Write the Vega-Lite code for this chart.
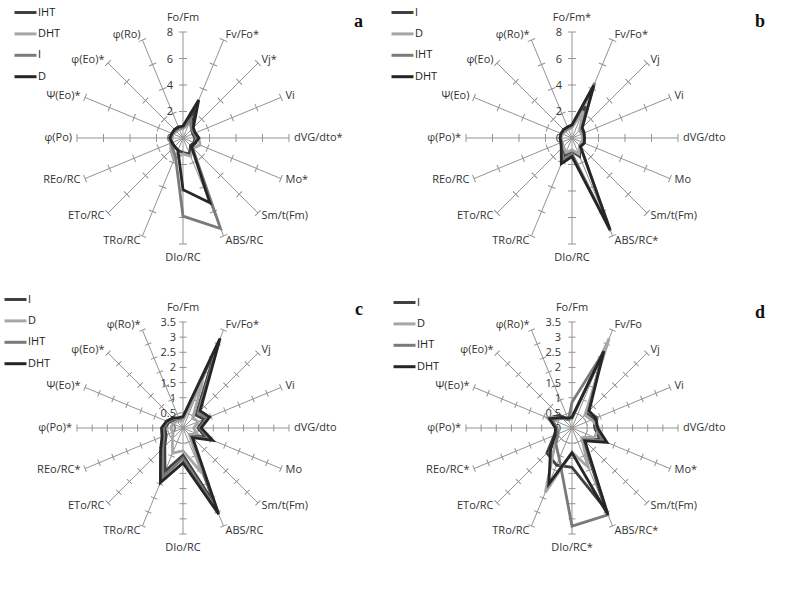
{
"$schema":"https://vega.github.io/schema/vega-lite/v6.json",
"padding":0,
"background":"white",
"columns":2,
"spacing":0,
"bounds":"flush",
"resolve":{"scale":{"color":"independent"},"legend":{"color":"independent"}},
"config":{"view":{"stroke":null},"font":"Open Sans","legend":{"title":null,"symbolType":"stroke","symbolSize":484,"symbolStrokeWidth":3,"labelFont":"Open Sans","labelFontSize":11,"labelColor":"#222","labelOffset":0,"rowPadding":2.4,"padding":0}},
"datasets":{
"spokes":[
{"k":0,"la":"Fo/Fm","lb":"Fo/Fm*","lc":"Fo/Fm","ld":"Fo/Fm","t8":[2,4,6,8],"t35":[0.5,1,1.5,2,2.5,3,3.5]},
{"k":1,"la":"Fv/Fo*","lb":"Fv/Fo*","lc":"Fv/Fo*","ld":"Fv/Fo","t8":[2,4,6,8],"t35":[0.5,1,1.5,2,2.5,3,3.5]},
{"k":2,"la":"Vj*","lb":"Vj","lc":"Vj","ld":"Vj","t8":[2,4,6,8],"t35":[0.5,1,1.5,2,2.5,3,3.5]},
{"k":3,"la":"Vi","lb":"Vi","lc":"Vi","ld":"Vi","t8":[2,4,6,8],"t35":[0.5,1,1.5,2,2.5,3,3.5]},
{"k":4,"la":"dVG/dto*","lb":"dVG/dto","lc":"dVG/dto","ld":"dVG/dto","t8":[2,4,6,8],"t35":[0.5,1,1.5,2,2.5,3,3.5]},
{"k":5,"la":"Mo*","lb":"Mo","lc":"Mo","ld":"Mo*","t8":[2,4,6,8],"t35":[0.5,1,1.5,2,2.5,3,3.5]},
{"k":6,"la":"Sm/t(Fm)","lb":"Sm/t(Fm)","lc":"Sm/t(Fm)","ld":"Sm/t(Fm)","t8":[2,4,6,8],"t35":[0.5,1,1.5,2,2.5,3,3.5]},
{"k":7,"la":"ABS/RC","lb":"ABS/RC*","lc":"ABS/RC","ld":"ABS/RC*","t8":[2,4,6,8],"t35":[0.5,1,1.5,2,2.5,3,3.5]},
{"k":8,"la":"DIo/RC","lb":"DIo/RC","lc":"DIo/RC","ld":"DIo/RC*","t8":[2,4,6,8],"t35":[0.5,1,1.5,2,2.5,3,3.5]},
{"k":9,"la":"TRo/RC","lb":"TRo/RC","lc":"TRo/RC","ld":"TRo/RC","t8":[2,4,6,8],"t35":[0.5,1,1.5,2,2.5,3,3.5]},
{"k":10,"la":"ETo/RC","lb":"ETo/RC","lc":"ETo/RC","ld":"ETo/RC","t8":[2,4,6,8],"t35":[0.5,1,1.5,2,2.5,3,3.5]},
{"k":11,"la":"REo/RC","lb":"REo/RC","lc":"REo/RC*","ld":"REo/RC*","t8":[2,4,6,8],"t35":[0.5,1,1.5,2,2.5,3,3.5]},
{"k":12,"la":"φ(Po)","lb":"φ(Po)*","lc":"φ(Po)*","ld":"φ(Po)*","t8":[2,4,6,8],"t35":[0.5,1,1.5,2,2.5,3,3.5]},
{"k":13,"la":"Ψ(Eo)*","lb":"Ψ(Eo)","lc":"Ψ(Eo)*","ld":"Ψ(Eo)*","t8":[2,4,6,8],"t35":[0.5,1,1.5,2,2.5,3,3.5]},
{"k":14,"la":"φ(Eo)*","lb":"φ(Eo)","lc":"φ(Eo)*","ld":"φ(Eo)*","t8":[2,4,6,8],"t35":[0.5,1,1.5,2,2.5,3,3.5]},
{"k":15,"la":"φ(Ro)","lb":"φ(Ro)*","lc":"φ(Ro)*","ld":"φ(Ro)*","t8":[2,4,6,8],"t35":[0.5,1,1.5,2,2.5,3,3.5]}
],
"series":[
{"p":"a","s":"IHT","k":0,"v":0.8},{"p":"a","s":"IHT","k":1,"v":2.4},{"p":"a","s":"IHT","k":2,"v":0.9},{"p":"a","s":"IHT","k":3,"v":0.8},{"p":"a","s":"IHT","k":4,"v":0.9},{"p":"a","s":"IHT","k":5,"v":0.9},{"p":"a","s":"IHT","k":6,"v":0.8},{"p":"a","s":"IHT","k":7,"v":1.3},{"p":"a","s":"IHT","k":8,"v":1.1},{"p":"a","s":"IHT","k":9,"v":1.0},{"p":"a","s":"IHT","k":10,"v":0.9},{"p":"a","s":"IHT","k":11,"v":0.9},{"p":"a","s":"IHT","k":12,"v":0.9},{"p":"a","s":"IHT","k":13,"v":0.9},{"p":"a","s":"IHT","k":14,"v":0.9},{"p":"a","s":"IHT","k":15,"v":0.9},
{"p":"a","s":"DHT","k":0,"v":0.7},{"p":"a","s":"DHT","k":1,"v":1.2},{"p":"a","s":"DHT","k":2,"v":1.0},{"p":"a","s":"DHT","k":3,"v":1.0},{"p":"a","s":"DHT","k":4,"v":1.2},{"p":"a","s":"DHT","k":5,"v":1.4},{"p":"a","s":"DHT","k":6,"v":1.1},{"p":"a","s":"DHT","k":7,"v":1.5},{"p":"a","s":"DHT","k":8,"v":1.2},{"p":"a","s":"DHT","k":9,"v":1.8},{"p":"a","s":"DHT","k":10,"v":1.3},{"p":"a","s":"DHT","k":11,"v":1.0},{"p":"a","s":"DHT","k":12,"v":0.8},{"p":"a","s":"DHT","k":13,"v":0.8},{"p":"a","s":"DHT","k":14,"v":0.7},{"p":"a","s":"DHT","k":15,"v":0.7},
{"p":"a","s":"I","k":0,"v":0.8},{"p":"a","s":"I","k":1,"v":1.5},{"p":"a","s":"I","k":2,"v":0.9},{"p":"a","s":"I","k":3,"v":0.9},{"p":"a","s":"I","k":4,"v":1.0},{"p":"a","s":"I","k":5,"v":1.0},{"p":"a","s":"I","k":6,"v":1.0},{"p":"a","s":"I","k":7,"v":7.4},{"p":"a","s":"I","k":8,"v":5.9},{"p":"a","s":"I","k":9,"v":1.5},{"p":"a","s":"I","k":10,"v":1.1},{"p":"a","s":"I","k":11,"v":1.0},{"p":"a","s":"I","k":12,"v":0.9},{"p":"a","s":"I","k":13,"v":0.9},{"p":"a","s":"I","k":14,"v":0.8},{"p":"a","s":"I","k":15,"v":0.8},
{"p":"a","s":"D","k":0,"v":0.9},{"p":"a","s":"D","k":1,"v":3.1},{"p":"a","s":"D","k":2,"v":1.1},{"p":"a","s":"D","k":3,"v":1.0},{"p":"a","s":"D","k":4,"v":1.2},{"p":"a","s":"D","k":5,"v":1.0},{"p":"a","s":"D","k":6,"v":0.9},{"p":"a","s":"D","k":7,"v":5.3},{"p":"a","s":"D","k":8,"v":3.9},{"p":"a","s":"D","k":9,"v":1.0},{"p":"a","s":"D","k":10,"v":0.9},{"p":"a","s":"D","k":11,"v":0.9},{"p":"a","s":"D","k":12,"v":1.0},{"p":"a","s":"D","k":13,"v":0.9},{"p":"a","s":"D","k":14,"v":0.9},{"p":"a","s":"D","k":15,"v":0.9},
{"p":"b","s":"I","k":0,"v":0.9},{"p":"b","s":"I","k":1,"v":2.6},{"p":"b","s":"I","k":2,"v":0.9},{"p":"b","s":"I","k":3,"v":0.9},{"p":"b","s":"I","k":4,"v":0.9},{"p":"b","s":"I","k":5,"v":0.9},{"p":"b","s":"I","k":6,"v":0.8},{"p":"b","s":"I","k":7,"v":1.5},{"p":"b","s":"I","k":8,"v":1.0},{"p":"b","s":"I","k":9,"v":1.4},{"p":"b","s":"I","k":10,"v":1.0},{"p":"b","s":"I","k":11,"v":0.9},{"p":"b","s":"I","k":12,"v":0.9},{"p":"b","s":"I","k":13,"v":0.8},{"p":"b","s":"I","k":14,"v":0.8},{"p":"b","s":"I","k":15,"v":0.8},
{"p":"b","s":"D","k":0,"v":0.8},{"p":"b","s":"D","k":1,"v":2.2},{"p":"b","s":"D","k":2,"v":0.8},{"p":"b","s":"D","k":3,"v":0.8},{"p":"b","s":"D","k":4,"v":0.8},{"p":"b","s":"D","k":5,"v":0.8},{"p":"b","s":"D","k":6,"v":0.8},{"p":"b","s":"D","k":7,"v":1.3},{"p":"b","s":"D","k":8,"v":0.9},{"p":"b","s":"D","k":9,"v":1.2},{"p":"b","s":"D","k":10,"v":0.9},{"p":"b","s":"D","k":11,"v":0.8},{"p":"b","s":"D","k":12,"v":0.8},{"p":"b","s":"D","k":13,"v":0.8},{"p":"b","s":"D","k":14,"v":0.7},{"p":"b","s":"D","k":15,"v":0.7},
{"p":"b","s":"IHT","k":0,"v":0.9},{"p":"b","s":"IHT","k":1,"v":4.5},{"p":"b","s":"IHT","k":2,"v":1.0},{"p":"b","s":"IHT","k":3,"v":0.9},{"p":"b","s":"IHT","k":4,"v":0.9},{"p":"b","s":"IHT","k":5,"v":1.0},{"p":"b","s":"IHT","k":6,"v":0.9},{"p":"b","s":"IHT","k":7,"v":7.6},{"p":"b","s":"IHT","k":8,"v":1.2},{"p":"b","s":"IHT","k":9,"v":1.8},{"p":"b","s":"IHT","k":10,"v":1.1},{"p":"b","s":"IHT","k":11,"v":0.9},{"p":"b","s":"IHT","k":12,"v":0.9},{"p":"b","s":"IHT","k":13,"v":0.9},{"p":"b","s":"IHT","k":14,"v":0.8},{"p":"b","s":"IHT","k":15,"v":0.8},
{"p":"b","s":"DHT","k":0,"v":1.0},{"p":"b","s":"DHT","k":1,"v":4.3},{"p":"b","s":"DHT","k":2,"v":1.1},{"p":"b","s":"DHT","k":3,"v":1.0},{"p":"b","s":"DHT","k":4,"v":0.95},{"p":"b","s":"DHT","k":5,"v":1.0},{"p":"b","s":"DHT","k":6,"v":0.9},{"p":"b","s":"DHT","k":7,"v":7.5},{"p":"b","s":"DHT","k":8,"v":1.4},{"p":"b","s":"DHT","k":9,"v":2.1},{"p":"b","s":"DHT","k":10,"v":1.15},{"p":"b","s":"DHT","k":11,"v":0.9},{"p":"b","s":"DHT","k":12,"v":0.9},{"p":"b","s":"DHT","k":13,"v":0.9},{"p":"b","s":"DHT","k":14,"v":0.9},{"p":"b","s":"DHT","k":15,"v":0.9},
{"p":"c","s":"I","k":0,"v":0.3},{"p":"c","s":"I","k":1,"v":2.95},{"p":"c","s":"I","k":2,"v":0.6},{"p":"c","s":"I","k":3,"v":0.75},{"p":"c","s":"I","k":4,"v":0.5},{"p":"c","s":"I","k":5,"v":0.8},{"p":"c","s":"I","k":6,"v":0.35},{"p":"c","s":"I","k":7,"v":2.7},{"p":"c","s":"I","k":8,"v":0.9},{"p":"c","s":"I","k":9,"v":1.55},{"p":"c","s":"I","k":10,"v":0.85},{"p":"c","s":"I","k":11,"v":0.6},{"p":"c","s":"I","k":12,"v":0.6},{"p":"c","s":"I","k":13,"v":0.5},{"p":"c","s":"I","k":14,"v":0.38},{"p":"c","s":"I","k":15,"v":0.3},
{"p":"c","s":"D","k":0,"v":0.25},{"p":"c","s":"D","k":1,"v":1.7},{"p":"c","s":"D","k":2,"v":0.45},{"p":"c","s":"D","k":3,"v":0.55},{"p":"c","s":"D","k":4,"v":0.35},{"p":"c","s":"D","k":5,"v":0.5},{"p":"c","s":"D","k":6,"v":0.3},{"p":"c","s":"D","k":7,"v":1.6},{"p":"c","s":"D","k":8,"v":0.75},{"p":"c","s":"D","k":9,"v":0.9},{"p":"c","s":"D","k":10,"v":0.5},{"p":"c","s":"D","k":11,"v":0.35},{"p":"c","s":"D","k":12,"v":0.4},{"p":"c","s":"D","k":13,"v":0.35},{"p":"c","s":"D","k":14,"v":0.3},{"p":"c","s":"D","k":15,"v":0.25},
{"p":"c","s":"IHT","k":0,"v":0.35},{"p":"c","s":"IHT","k":1,"v":3.1},{"p":"c","s":"IHT","k":2,"v":0.7},{"p":"c","s":"IHT","k":3,"v":0.85},{"p":"c","s":"IHT","k":4,"v":0.55},{"p":"c","s":"IHT","k":5,"v":0.95},{"p":"c","s":"IHT","k":6,"v":0.4},{"p":"c","s":"IHT","k":7,"v":2.95},{"p":"c","s":"IHT","k":8,"v":1.0},{"p":"c","s":"IHT","k":9,"v":1.75},{"p":"c","s":"IHT","k":10,"v":0.95},{"p":"c","s":"IHT","k":11,"v":0.7},{"p":"c","s":"IHT","k":12,"v":0.65},{"p":"c","s":"IHT","k":13,"v":0.55},{"p":"c","s":"IHT","k":14,"v":0.42},{"p":"c","s":"IHT","k":15,"v":0.33},
{"p":"c","s":"DHT","k":0,"v":0.38},{"p":"c","s":"DHT","k":1,"v":3.2},{"p":"c","s":"DHT","k":2,"v":0.8},{"p":"c","s":"DHT","k":3,"v":0.95},{"p":"c","s":"DHT","k":4,"v":0.6},{"p":"c","s":"DHT","k":5,"v":1.06},{"p":"c","s":"DHT","k":6,"v":0.45},{"p":"c","s":"DHT","k":7,"v":3.08},{"p":"c","s":"DHT","k":8,"v":1.15},{"p":"c","s":"DHT","k":9,"v":1.95},{"p":"c","s":"DHT","k":10,"v":1.05},{"p":"c","s":"DHT","k":11,"v":0.75},{"p":"c","s":"DHT","k":12,"v":0.71},{"p":"c","s":"DHT","k":13,"v":0.59},{"p":"c","s":"DHT","k":14,"v":0.47},{"p":"c","s":"DHT","k":15,"v":0.37},
{"p":"d","s":"I","k":0,"v":0.35},{"p":"d","s":"I","k":1,"v":2.7},{"p":"d","s":"I","k":2,"v":0.7},{"p":"d","s":"I","k":3,"v":0.8},{"p":"d","s":"I","k":4,"v":0.75},{"p":"d","s":"I","k":5,"v":1.0},{"p":"d","s":"I","k":6,"v":0.5},{"p":"d","s":"I","k":7,"v":2.9},{"p":"d","s":"I","k":8,"v":1.3},{"p":"d","s":"I","k":9,"v":1.33},{"p":"d","s":"I","k":10,"v":1.17},{"p":"d","s":"I","k":11,"v":0.64},{"p":"d","s":"I","k":12,"v":0.5},{"p":"d","s":"I","k":13,"v":0.85},{"p":"d","s":"I","k":14,"v":0.6},{"p":"d","s":"I","k":15,"v":0.3},
{"p":"d","s":"D","k":0,"v":0.3},{"p":"d","s":"D","k":1,"v":3.2},{"p":"d","s":"D","k":2,"v":0.6},{"p":"d","s":"D","k":3,"v":0.7},{"p":"d","s":"D","k":4,"v":0.9},{"p":"d","s":"D","k":5,"v":0.8},{"p":"d","s":"D","k":6,"v":0.45},{"p":"d","s":"D","k":7,"v":1.4},{"p":"d","s":"D","k":8,"v":0.8},{"p":"d","s":"D","k":9,"v":2.3},{"p":"d","s":"D","k":10,"v":0.8},{"p":"d","s":"D","k":11,"v":0.5},{"p":"d","s":"D","k":12,"v":0.45},{"p":"d","s":"D","k":13,"v":0.9},{"p":"d","s":"D","k":14,"v":0.5},{"p":"d","s":"D","k":15,"v":0.3},
{"p":"d","s":"IHT","k":0,"v":0.85},{"p":"d","s":"IHT","k":1,"v":2.7},{"p":"d","s":"IHT","k":2,"v":0.75},{"p":"d","s":"IHT","k":3,"v":0.9},{"p":"d","s":"IHT","k":4,"v":0.8},{"p":"d","s":"IHT","k":5,"v":1.1},{"p":"d","s":"IHT","k":6,"v":0.55},{"p":"d","s":"IHT","k":7,"v":3.1},{"p":"d","s":"IHT","k":8,"v":3.24},{"p":"d","s":"IHT","k":9,"v":1.1},{"p":"d","s":"IHT","k":10,"v":0.75},{"p":"d","s":"IHT","k":11,"v":0.5},{"p":"d","s":"IHT","k":12,"v":0.5},{"p":"d","s":"IHT","k":13,"v":0.7},{"p":"d","s":"IHT","k":14,"v":0.45},{"p":"d","s":"IHT","k":15,"v":0.3},
{"p":"d","s":"DHT","k":0,"v":0.35},{"p":"d","s":"DHT","k":1,"v":2.75},{"p":"d","s":"DHT","k":2,"v":0.8},{"p":"d","s":"DHT","k":3,"v":0.85},{"p":"d","s":"DHT","k":4,"v":0.85},{"p":"d","s":"DHT","k":5,"v":1.25},{"p":"d","s":"DHT","k":6,"v":0.6},{"p":"d","s":"DHT","k":7,"v":3.1},{"p":"d","s":"DHT","k":8,"v":0.82},{"p":"d","s":"DHT","k":9,"v":2.0},{"p":"d","s":"DHT","k":10,"v":1.0},{"p":"d","s":"DHT","k":11,"v":0.6},{"p":"d","s":"DHT","k":12,"v":0.55},{"p":"d","s":"DHT","k":13,"v":0.8},{"p":"d","s":"DHT","k":14,"v":0.5},{"p":"d","s":"DHT","k":15,"v":0.35}
]
},
"concat":[
{"width":389,"height":290,
 "title":{"text":"a","anchor":"end","frame":"group","orient":"top","offset":-34,"dx":-26,"dy":11,"baseline":"alphabetic","font":"Liberation Serif","fontSize":18,"fontWeight":"bold","color":"#111"},
 "layer":[
  {"data":{"name":"spokes"},"transform":[{"calculate":"datum.k*PI/8","as":"th"},{"calculate":"0","as":"o"},{"calculate":"sin(datum.th)","as":"ex"},{"calculate":"cos(datum.th)","as":"ey"}],
   "mark":{"type":"rule","color":"#939393","strokeWidth":1},
   "encoding":{"x":{"field":"o","type":"quantitative","scale":{"domain":[-1.7264,1.9434],"nice":false,"zero":false},"axis":null},"y":{"field":"o","type":"quantitative","scale":{"domain":[-1.4906,1.2453],"nice":false,"zero":false},"axis":null},"x2":{"field":"ex"},"y2":{"field":"ey"}}},
  {"data":{"name":"spokes"},"transform":[{"flatten":["t8"],"as":["v"]},{"calculate":"datum.k*PI/8","as":"th"},{"calculate":"datum.v/8*sin(datum.th)","as":"px"},{"calculate":"datum.v/8*cos(datum.th)","as":"py"},{"calculate":"datum.k*22.5","as":"ang"}],
   "mark":{"type":"point","shape":"M-1,0L1,0","filled":false,"color":"#939393","strokeWidth":1,"size":64,"opacity":1},
   "encoding":{"x":{"field":"px","type":"quantitative"},"y":{"field":"py","type":"quantitative"},"angle":{"field":"ang","type":"quantitative","scale":null}}},
  {"data":{"values":[{"v":0},{"v":2},{"v":4},{"v":6},{"v":8}]},"transform":[{"calculate":"0","as":"o"},{"calculate":"datum.v/8","as":"py"}],
   "mark":{"type":"text","align":"right","baseline":"middle","dx":-10,"dy":1,"fontSize":11,"color":"#333"},
   "encoding":{"x":{"field":"o","type":"quantitative"},"y":{"field":"py","type":"quantitative"},"text":{"field":"v","type":"quantitative","format":"~g"}}},
  {"data":{"name":"spokes"},"transform":[{"filter":"datum.k>0 && datum.k<8"},{"calculate":"datum.k*PI/8","as":"th"},{"calculate":"1.047*sin(datum.th)","as":"px"},{"calculate":"1.047*cos(datum.th)","as":"py"}],
   "mark":{"type":"text","align":"left","baseline":"middle","fontSize":11,"color":"#333"},
   "encoding":{"x":{"field":"px","type":"quantitative"},"y":{"field":"py","type":"quantitative"},"text":{"field":"la"}}},
  {"data":{"name":"spokes"},"transform":[{"filter":"datum.k>8"},{"calculate":"datum.k*PI/8","as":"th"},{"calculate":"1.047*sin(datum.th)","as":"px"},{"calculate":"1.047*cos(datum.th)","as":"py"}],
   "mark":{"type":"text","align":"right","baseline":"middle","fontSize":11,"color":"#333"},
   "encoding":{"x":{"field":"px","type":"quantitative"},"y":{"field":"py","type":"quantitative"},"text":{"field":"la"}}},
  {"data":{"name":"spokes"},"transform":[{"filter":"datum.k==0 || datum.k==8"},{"calculate":"datum.k*PI/8","as":"th"},{"calculate":"1.13*sin(datum.th)","as":"px"},{"calculate":"1.13*cos(datum.th)","as":"py"}],
   "mark":{"type":"text","align":"center","baseline":"middle","fontSize":11,"color":"#333"},
   "encoding":{"x":{"field":"px","type":"quantitative"},"y":{"field":"py","type":"quantitative"},"text":{"field":"la"}}},
  {"data":{"name":"series"},"transform":[{"filter":"datum.p==='a'"},{"calculate":"datum.k*PI/8","as":"th"},{"calculate":"datum.v/8*sin(datum.th)","as":"px"},{"calculate":"datum.v/8*cos(datum.th)","as":"py"}],
   "mark":{"type":"line","interpolate":"linear-closed","strokeWidth":2.8},
   "encoding":{"x":{"field":"px","type":"quantitative"},"y":{"field":"py","type":"quantitative"},"order":{"field":"k","type":"quantitative"},
    "color":{"field":"s","type":"nominal","scale":{"domain":["IHT","DHT","I","D"],"range":["#404040","#a6a6a6","#7a7a7a","#262626"]},"legend":{"orient":"none","legendX":13,"legendY":-6}}}}
 ]},
{"width":389,"height":290,
 "title":{"text":"b","anchor":"end","frame":"group","orient":"top","offset":-34,"dx":-13,"dy":11,"baseline":"alphabetic","font":"Liberation Serif","fontSize":18,"fontWeight":"bold","color":"#111"},
 "layer":[
  {"data":{"name":"spokes"},"transform":[{"calculate":"datum.k*PI/8","as":"th"},{"calculate":"0","as":"o"},{"calculate":"sin(datum.th)","as":"ex"},{"calculate":"cos(datum.th)","as":"ey"}],
   "mark":{"type":"rule","color":"#939393","strokeWidth":1},
   "encoding":{"x":{"field":"o","type":"quantitative","scale":{"domain":[-1.7264,1.9434],"nice":false,"zero":false},"axis":null},"y":{"field":"o","type":"quantitative","scale":{"domain":[-1.4906,1.2453],"nice":false,"zero":false},"axis":null},"x2":{"field":"ex"},"y2":{"field":"ey"}}},
  {"data":{"name":"spokes"},"transform":[{"flatten":["t8"],"as":["v"]},{"calculate":"datum.k*PI/8","as":"th"},{"calculate":"datum.v/8*sin(datum.th)","as":"px"},{"calculate":"datum.v/8*cos(datum.th)","as":"py"},{"calculate":"datum.k*22.5","as":"ang"}],
   "mark":{"type":"point","shape":"M-1,0L1,0","filled":false,"color":"#939393","strokeWidth":1,"size":64,"opacity":1},
   "encoding":{"x":{"field":"px","type":"quantitative"},"y":{"field":"py","type":"quantitative"},"angle":{"field":"ang","type":"quantitative","scale":null}}},
  {"data":{"values":[{"v":0},{"v":2},{"v":4},{"v":6},{"v":8}]},"transform":[{"calculate":"0","as":"o"},{"calculate":"datum.v/8","as":"py"}],
   "mark":{"type":"text","align":"right","baseline":"middle","dx":-10,"dy":1,"fontSize":11,"color":"#333"},
   "encoding":{"x":{"field":"o","type":"quantitative"},"y":{"field":"py","type":"quantitative"},"text":{"field":"v","type":"quantitative","format":"~g"}}},
  {"data":{"name":"spokes"},"transform":[{"filter":"datum.k>0 && datum.k<8"},{"calculate":"datum.k*PI/8","as":"th"},{"calculate":"1.047*sin(datum.th)","as":"px"},{"calculate":"1.047*cos(datum.th)","as":"py"}],
   "mark":{"type":"text","align":"left","baseline":"middle","fontSize":11,"color":"#333"},
   "encoding":{"x":{"field":"px","type":"quantitative"},"y":{"field":"py","type":"quantitative"},"text":{"field":"lb"}}},
  {"data":{"name":"spokes"},"transform":[{"filter":"datum.k>8"},{"calculate":"datum.k*PI/8","as":"th"},{"calculate":"1.047*sin(datum.th)","as":"px"},{"calculate":"1.047*cos(datum.th)","as":"py"}],
   "mark":{"type":"text","align":"right","baseline":"middle","fontSize":11,"color":"#333"},
   "encoding":{"x":{"field":"px","type":"quantitative"},"y":{"field":"py","type":"quantitative"},"text":{"field":"lb"}}},
  {"data":{"name":"spokes"},"transform":[{"filter":"datum.k==0 || datum.k==8"},{"calculate":"datum.k*PI/8","as":"th"},{"calculate":"1.13*sin(datum.th)","as":"px"},{"calculate":"1.13*cos(datum.th)","as":"py"}],
   "mark":{"type":"text","align":"center","baseline":"middle","fontSize":11,"color":"#333"},
   "encoding":{"x":{"field":"px","type":"quantitative"},"y":{"field":"py","type":"quantitative"},"text":{"field":"lb"}}},
  {"data":{"name":"series"},"transform":[{"filter":"datum.p==='b'"},{"calculate":"datum.k*PI/8","as":"th"},{"calculate":"datum.v/8*sin(datum.th)","as":"px"},{"calculate":"datum.v/8*cos(datum.th)","as":"py"}],
   "mark":{"type":"line","interpolate":"linear-closed","strokeWidth":2.8},
   "encoding":{"x":{"field":"px","type":"quantitative"},"y":{"field":"py","type":"quantitative"},"order":{"field":"k","type":"quantitative"},
    "color":{"field":"s","type":"nominal","scale":{"domain":["I","D","IHT","DHT"],"range":["#404040","#a6a6a6","#7a7a7a","#262626"]},"legend":{"orient":"none","legendX":1,"legendY":-6}}}}
 ]},
{"width":389,"height":290,
 "title":{"text":"c","anchor":"end","frame":"group","orient":"top","offset":-35,"dx":-26,"dy":11,"baseline":"alphabetic","font":"Liberation Serif","fontSize":18,"fontWeight":"bold","color":"#111"},
 "layer":[
  {"data":{"name":"spokes"},"transform":[{"calculate":"datum.k*PI/8","as":"th"},{"calculate":"0","as":"o"},{"calculate":"sin(datum.th)","as":"ex"},{"calculate":"cos(datum.th)","as":"ey"}],
   "mark":{"type":"rule","color":"#939393","strokeWidth":1},
   "encoding":{"x":{"field":"o","type":"quantitative","scale":{"domain":[-1.7264,1.9434],"nice":false,"zero":false},"axis":null},"y":{"field":"o","type":"quantitative","scale":{"domain":[-1.4906,1.2453],"nice":false,"zero":false},"axis":null},"x2":{"field":"ex"},"y2":{"field":"ey"}}},
  {"data":{"name":"spokes"},"transform":[{"flatten":["t35"],"as":["v"]},{"calculate":"datum.k*PI/8","as":"th"},{"calculate":"datum.v/3.5*sin(datum.th)","as":"px"},{"calculate":"datum.v/3.5*cos(datum.th)","as":"py"},{"calculate":"datum.k*22.5","as":"ang"}],
   "mark":{"type":"point","shape":"M-1,0L1,0","filled":false,"color":"#939393","strokeWidth":1,"size":49,"opacity":1},
   "encoding":{"x":{"field":"px","type":"quantitative"},"y":{"field":"py","type":"quantitative"},"angle":{"field":"ang","type":"quantitative","scale":null}}},
  {"data":{"values":[{"v":0},{"v":0.5},{"v":1},{"v":1.5},{"v":2},{"v":2.5},{"v":3},{"v":3.5}]},"transform":[{"calculate":"0","as":"o"},{"calculate":"datum.v/3.5","as":"py"}],
   "mark":{"type":"text","align":"right","baseline":"middle","dx":-7,"dy":1,"fontSize":11,"color":"#333"},
   "encoding":{"x":{"field":"o","type":"quantitative"},"y":{"field":"py","type":"quantitative"},"text":{"field":"v","type":"quantitative","format":"~g"}}},
  {"data":{"name":"spokes"},"transform":[{"filter":"datum.k>0 && datum.k<8"},{"calculate":"datum.k*PI/8","as":"th"},{"calculate":"1.047*sin(datum.th)","as":"px"},{"calculate":"1.047*cos(datum.th)","as":"py"}],
   "mark":{"type":"text","align":"left","baseline":"middle","fontSize":11,"color":"#333"},
   "encoding":{"x":{"field":"px","type":"quantitative"},"y":{"field":"py","type":"quantitative"},"text":{"field":"lc"}}},
  {"data":{"name":"spokes"},"transform":[{"filter":"datum.k>8"},{"calculate":"datum.k*PI/8","as":"th"},{"calculate":"1.047*sin(datum.th)","as":"px"},{"calculate":"1.047*cos(datum.th)","as":"py"}],
   "mark":{"type":"text","align":"right","baseline":"middle","fontSize":11,"color":"#333"},
   "encoding":{"x":{"field":"px","type":"quantitative"},"y":{"field":"py","type":"quantitative"},"text":{"field":"lc"}}},
  {"data":{"name":"spokes"},"transform":[{"filter":"datum.k==0 || datum.k==8"},{"calculate":"datum.k*PI/8","as":"th"},{"calculate":"1.13*sin(datum.th)","as":"px"},{"calculate":"1.13*cos(datum.th)","as":"py"}],
   "mark":{"type":"text","align":"center","baseline":"middle","fontSize":11,"color":"#333"},
   "encoding":{"x":{"field":"px","type":"quantitative"},"y":{"field":"py","type":"quantitative"},"text":{"field":"lc"}}},
  {"data":{"name":"series"},"transform":[{"filter":"datum.p==='c'"},{"calculate":"datum.k*PI/8","as":"th"},{"calculate":"datum.v/3.5*sin(datum.th)","as":"px"},{"calculate":"datum.v/3.5*cos(datum.th)","as":"py"}],
   "mark":{"type":"line","interpolate":"linear-closed","strokeWidth":2.8},
   "encoding":{"x":{"field":"px","type":"quantitative"},"y":{"field":"py","type":"quantitative"},"order":{"field":"k","type":"quantitative"},
    "color":{"field":"s","type":"nominal","scale":{"domain":["I","D","IHT","DHT"],"range":["#404040","#a6a6a6","#7a7a7a","#262626"]},"legend":{"orient":"none","legendX":3,"legendY":-9}}}}
 ]},
{"width":389,"height":290,
 "title":{"text":"d","anchor":"end","frame":"group","orient":"top","offset":-35,"dx":-13,"dy":11,"baseline":"alphabetic","font":"Liberation Serif","fontSize":18,"fontWeight":"bold","color":"#111"},
 "layer":[
  {"data":{"name":"spokes"},"transform":[{"calculate":"datum.k*PI/8","as":"th"},{"calculate":"0","as":"o"},{"calculate":"sin(datum.th)","as":"ex"},{"calculate":"cos(datum.th)","as":"ey"}],
   "mark":{"type":"rule","color":"#939393","strokeWidth":1},
   "encoding":{"x":{"field":"o","type":"quantitative","scale":{"domain":[-1.7264,1.9434],"nice":false,"zero":false},"axis":null},"y":{"field":"o","type":"quantitative","scale":{"domain":[-1.4906,1.2453],"nice":false,"zero":false},"axis":null},"x2":{"field":"ex"},"y2":{"field":"ey"}}},
  {"data":{"name":"spokes"},"transform":[{"flatten":["t35"],"as":["v"]},{"calculate":"datum.k*PI/8","as":"th"},{"calculate":"datum.v/3.5*sin(datum.th)","as":"px"},{"calculate":"datum.v/3.5*cos(datum.th)","as":"py"},{"calculate":"datum.k*22.5","as":"ang"}],
   "mark":{"type":"point","shape":"M-1,0L1,0","filled":false,"color":"#939393","strokeWidth":1,"size":49,"opacity":1},
   "encoding":{"x":{"field":"px","type":"quantitative"},"y":{"field":"py","type":"quantitative"},"angle":{"field":"ang","type":"quantitative","scale":null}}},
  {"data":{"values":[{"v":0},{"v":0.5},{"v":1},{"v":1.5},{"v":2},{"v":2.5},{"v":3},{"v":3.5}]},"transform":[{"calculate":"0","as":"o"},{"calculate":"datum.v/3.5","as":"py"}],
   "mark":{"type":"text","align":"right","baseline":"middle","dx":-11,"dy":1,"fontSize":11,"color":"#333"},
   "encoding":{"x":{"field":"o","type":"quantitative"},"y":{"field":"py","type":"quantitative"},"text":{"field":"v","type":"quantitative","format":"~g"}}},
  {"data":{"name":"spokes"},"transform":[{"filter":"datum.k>0 && datum.k<8"},{"calculate":"datum.k*PI/8","as":"th"},{"calculate":"1.047*sin(datum.th)","as":"px"},{"calculate":"1.047*cos(datum.th)","as":"py"}],
   "mark":{"type":"text","align":"left","baseline":"middle","fontSize":11,"color":"#333"},
   "encoding":{"x":{"field":"px","type":"quantitative"},"y":{"field":"py","type":"quantitative"},"text":{"field":"ld"}}},
  {"data":{"name":"spokes"},"transform":[{"filter":"datum.k>8"},{"calculate":"datum.k*PI/8","as":"th"},{"calculate":"1.047*sin(datum.th)","as":"px"},{"calculate":"1.047*cos(datum.th)","as":"py"}],
   "mark":{"type":"text","align":"right","baseline":"middle","fontSize":11,"color":"#333"},
   "encoding":{"x":{"field":"px","type":"quantitative"},"y":{"field":"py","type":"quantitative"},"text":{"field":"ld"}}},
  {"data":{"name":"spokes"},"transform":[{"filter":"datum.k==0 || datum.k==8"},{"calculate":"datum.k*PI/8","as":"th"},{"calculate":"1.13*sin(datum.th)","as":"px"},{"calculate":"1.13*cos(datum.th)","as":"py"}],
   "mark":{"type":"text","align":"center","baseline":"middle","fontSize":11,"color":"#333"},
   "encoding":{"x":{"field":"px","type":"quantitative"},"y":{"field":"py","type":"quantitative"},"text":{"field":"ld"}}},
  {"data":{"name":"series"},"transform":[{"filter":"datum.p==='d'"},{"calculate":"datum.k*PI/8","as":"th"},{"calculate":"datum.v/3.5*sin(datum.th)","as":"px"},{"calculate":"datum.v/3.5*cos(datum.th)","as":"py"}],
   "mark":{"type":"line","interpolate":"linear-closed","strokeWidth":2.8},
   "encoding":{"x":{"field":"px","type":"quantitative"},"y":{"field":"py","type":"quantitative"},"order":{"field":"k","type":"quantitative"},
    "color":{"field":"s","type":"nominal","scale":{"domain":["I","D","IHT","DHT"],"range":["#404040","#a6a6a6","#7a7a7a","#262626"]},"legend":{"orient":"none","legendX":3,"legendY":-6}}}}
 ]}
]
}
